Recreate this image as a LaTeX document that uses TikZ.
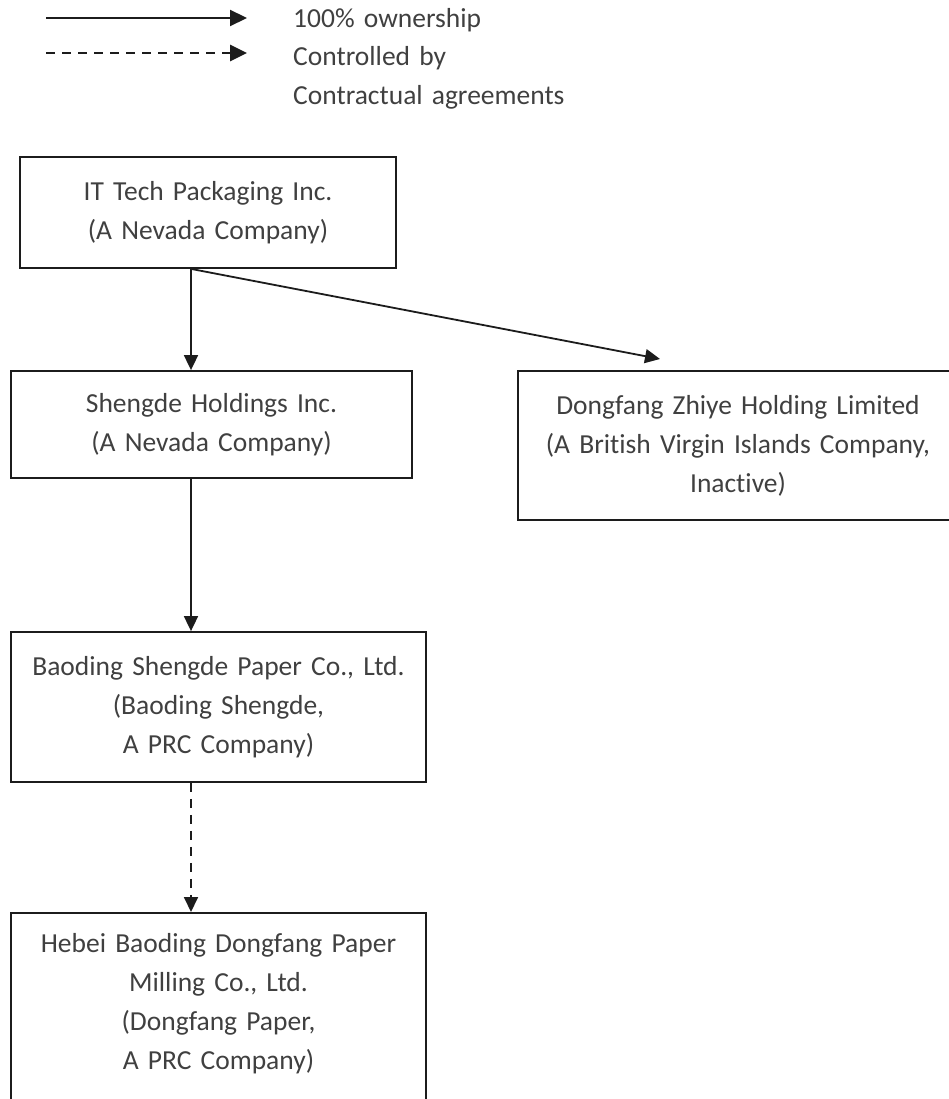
\documentclass[tikz,border=0pt]{standalone}
\usepackage{fontspec}
\setmainfont[Ligatures=NoCommon]{Carlito}
\usetikzlibrary{arrows.meta}
\definecolor{txtgray}{HTML}{404040}
\definecolor{edgegray}{HTML}{1C1C1C}

\begin{document}
\begin{tikzpicture}[x=1pt,y=-1pt,
  entity/.style={draw=edgegray, line width=1.8pt, text=txtgray, align=center,
    font=\fontsize{27.5}{39}\selectfont, inner sep=0pt},
  legtext/.style={text=txtgray, align=left, text width=300pt,
    font=\fontsize{27.5}{39}\selectfont, inner sep=0pt, anchor=base west},
  own/.style={draw=edgegray, line width=1.8pt, -{Triangle[length=15pt,width=14pt]}},
  ctrl/.style={own, dash pattern=on 9pt off 7pt}]
  \useasboundingbox (0,0) rectangle (948,1099);

  \coordinate (solidA) at (46,18);
  \coordinate (solidB) at (247,18);
  \coordinate (dashA) at (46,53);
  \coordinate (dashB) at (247,53);
  \draw[own, line width=2.2pt, -{Triangle[length=17pt,width=16pt]}] (solidA) -- (solidB);
  \draw[ctrl, line width=2.8pt, -{Triangle[length=17pt,width=16pt]}] (dashA) -- (dashB);
  \node[legtext] (legown) at (293,28) {100\% ownership};
  \node[legtext] (legctrl) at (293,66) {Controlled by\\Contractual agreements};

  \node[entity, minimum width=376, minimum height=111, text width=360] (itech) at (208,212.5)
    {IT Tech Packaging Inc.\\(A Nevada Company)};
  \node[entity, minimum width=401, minimum height=107, text width=385] (shengde) at (211.5,424.5)
    {Shengde Holdings Inc.\\(A Nevada Company)};
  \node[entity, minimum width=440, minimum height=149, text width=420] (zhiye) at (738,445.5)
    {Dongfang Zhiye Holding Limited\\(A British Virgin Islands Company,\\Inactive)};
  \node[entity, minimum width=415, minimum height=150, text width=395] (baoding) at (218.5,707)
    {Baoding Shengde Paper Co., Ltd.\\(Baoding Shengde,\\A PRC Company)};
  \node[entity, minimum width=415, text width=395, text height=40, text depth=260, anchor=north] (hebei) at (218.5,912)
    {Hebei Baoding Dongfang Paper\\Milling Co., Ltd.\\(Dongfang Paper,\\A PRC Company)};

  \coordinate (spine) at (191,0);
  \coordinate (zhiyetip) at (660,359);
  \draw[own] (itech.south -| spine) -- (shengde.north -| spine);
  \draw[own] (itech.south -| spine) -- (zhiyetip);
  \draw[own] (shengde.south -| spine) -- (baoding.north -| spine);
  \draw[ctrl] (baoding.south -| spine) -- (hebei.north -| spine);
\end{tikzpicture}
\end{document}
